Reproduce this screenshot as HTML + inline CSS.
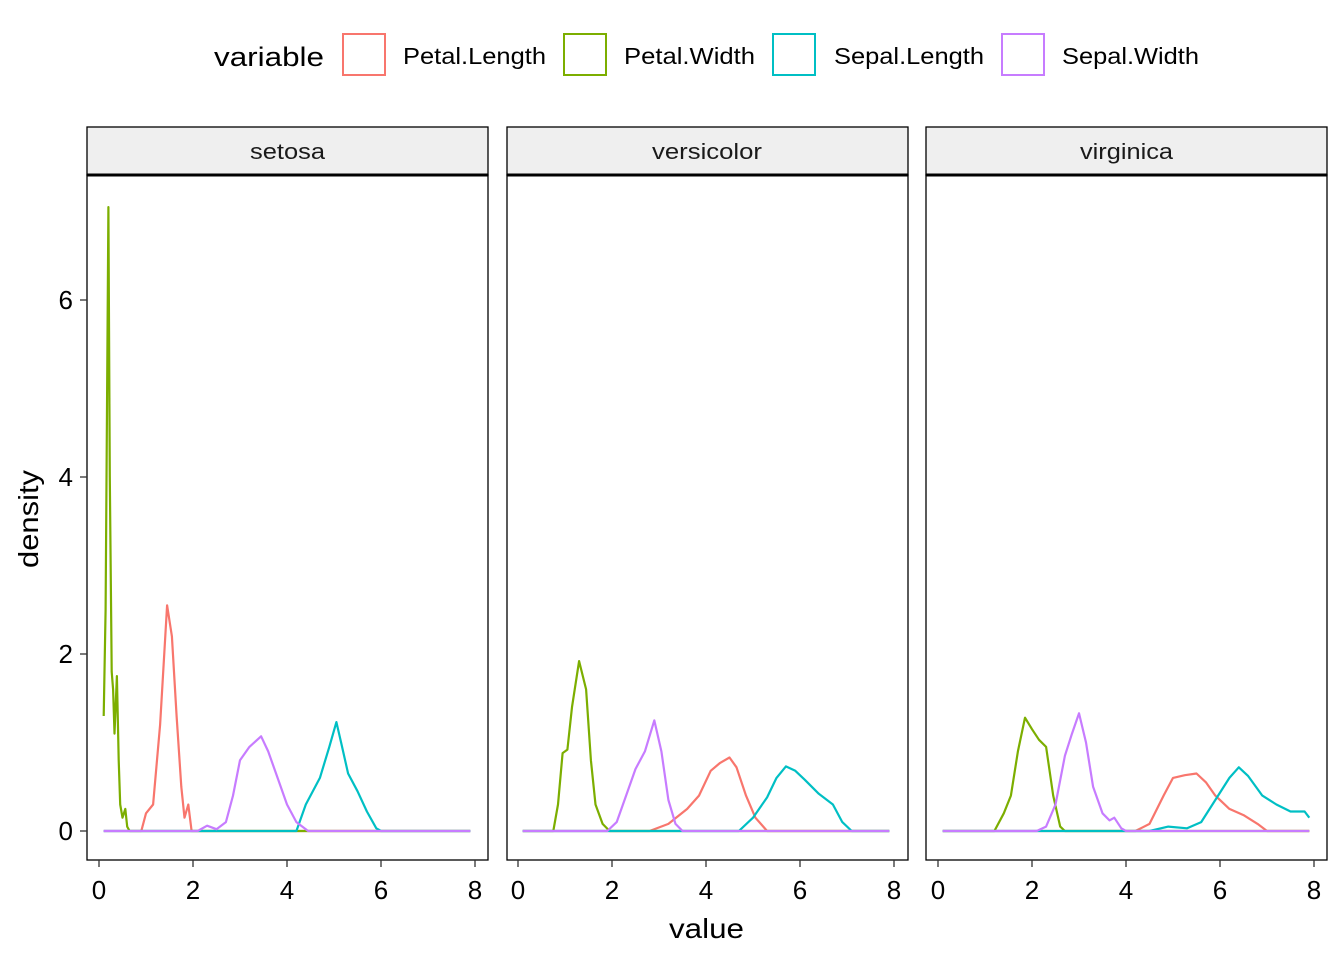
<!DOCTYPE html>
<html><head><meta charset="utf-8"><style>
body{margin:0;background:#fff}
svg text{font-family:"Liberation Sans",Arial,sans-serif}
</style></head><body>
<svg id="s" width="1344" height="960" xmlns="http://www.w3.org/2000/svg">
<rect width="1344" height="960" fill="#fff"/>
<text x="214" y="66" font-size="27" textLength="110" lengthAdjust="spacingAndGlyphs">variable</text>
<rect x="343" y="34" width="42" height="41" fill="none" stroke="#F8766D" stroke-width="2"/>
<text x="403" y="64" font-size="23" textLength="143" lengthAdjust="spacingAndGlyphs">Petal.Length</text>
<rect x="564" y="34" width="42" height="41" fill="none" stroke="#7CAE00" stroke-width="2"/>
<text x="624" y="64" font-size="23" textLength="131" lengthAdjust="spacingAndGlyphs">Petal.Width</text>
<rect x="773" y="34" width="42" height="41" fill="none" stroke="#00BFC4" stroke-width="2"/>
<text x="834" y="64" font-size="23" textLength="150" lengthAdjust="spacingAndGlyphs">Sepal.Length</text>
<rect x="1002" y="34" width="42" height="41" fill="none" stroke="#C77CFF" stroke-width="2"/>
<text x="1062" y="64" font-size="23" textLength="137" lengthAdjust="spacingAndGlyphs">Sepal.Width</text>
<text x="669" y="938" font-size="28" textLength="75" lengthAdjust="spacingAndGlyphs">value</text>
<text transform="translate(38,568) rotate(-90)" font-size="28" textLength="98" lengthAdjust="spacingAndGlyphs">density</text>
<g id="g"></g>
</svg>
<script>
var g=document.getElementById('g'),h='';
var panels=[
{x:87,name:'setosa',tx:250,tw:75,x0:99,d:{
PL:[[0.1,0],[0.9,0],[1.0,0.2],[1.15,0.3],[1.3,1.2],[1.45,2.55],[1.55,2.2],[1.65,1.3],[1.75,0.5],[1.82,0.15],[1.9,0.3],[1.97,0],[7.9,0]],
PW:[[0.1,1.3],[0.14,2.5],[0.2,7.05],[0.23,4],[0.27,1.8],[0.3,1.6],[0.33,1.1],[0.38,1.75],[0.42,0.8],[0.45,0.3],[0.5,0.15],[0.56,0.25],[0.6,0.05],[0.65,0],[7.9,0]],
SL:[[0.1,0],[4.2,0],[4.4,0.3],[4.7,0.6],[4.9,0.95],[5.05,1.23],[5.15,1.0],[5.3,0.65],[5.5,0.45],[5.7,0.22],[5.9,0.03],[6,0],[7.9,0]],
SW:[[0.1,0],[2.1,0],[2.3,0.06],[2.5,0.02],[2.7,0.1],[2.85,0.4],[3.0,0.8],[3.2,0.95],[3.45,1.07],[3.6,0.9],[3.8,0.6],[4.0,0.3],[4.2,0.1],[4.45,0],[7.9,0]]}},
{x:507,name:'versicolor',tx:652,tw:110,x0:518,d:{
PL:[[0.1,0],[2.8,0],[3.2,0.08],[3.6,0.25],[3.85,0.4],[4.1,0.68],[4.3,0.77],[4.5,0.83],[4.65,0.72],[4.85,0.4],[5.05,0.15],[5.3,0],[7.9,0]],
PW:[[0.1,0],[0.75,0],[0.85,0.3],[0.95,0.88],[1.05,0.92],[1.15,1.4],[1.3,1.92],[1.45,1.6],[1.55,0.8],[1.65,0.3],[1.8,0.08],[1.95,0],[7.9,0]],
SL:[[0.1,0],[4.7,0],[5.0,0.15],[5.3,0.38],[5.5,0.6],[5.7,0.73],[5.9,0.68],[6.1,0.58],[6.4,0.42],[6.7,0.3],[6.9,0.1],[7.1,0],[7.9,0]],
SW:[[0.1,0],[1.9,0],[2.1,0.1],[2.3,0.4],[2.5,0.7],[2.7,0.9],[2.9,1.25],[3.05,0.9],[3.2,0.35],[3.35,0.08],[3.5,0],[7.9,0]]}},
{x:926,name:'virginica',tx:1080,tw:93,x0:938,d:{
PL:[[0.1,0],[4.2,0],[4.5,0.08],[4.8,0.4],[5.0,0.6],[5.25,0.63],[5.5,0.65],[5.7,0.55],[5.9,0.4],[6.2,0.25],[6.5,0.18],[6.8,0.08],[7.0,0],[7.9,0]],
PW:[[0.1,0],[1.2,0],[1.4,0.2],[1.55,0.4],[1.7,0.9],[1.85,1.28],[2.0,1.15],[2.15,1.03],[2.3,0.95],[2.45,0.4],[2.6,0.05],[2.7,0],[7.9,0]],
SL:[[0.1,0],[4.5,0],[4.9,0.05],[5.3,0.03],[5.6,0.1],[5.9,0.35],[6.2,0.6],[6.4,0.72],[6.6,0.62],[6.9,0.4],[7.2,0.3],[7.5,0.22],[7.8,0.22],[7.9,0.15]],
SW:[[0.1,0],[2.1,0],[2.3,0.05],[2.5,0.3],[2.7,0.85],[2.85,1.1],[3.0,1.33],[3.15,1.0],[3.3,0.5],[3.5,0.2],[3.65,0.12],[3.75,0.15],[3.9,0.03],[4.0,0],[7.9,0]]}}];
var col={PL:'#F8766D',PW:'#7CAE00',SL:'#00BFC4',SW:'#C77CFF'};
panels.forEach(function(p,i){
 h+='<rect x="'+p.x+'" y="127" width="401" height="48" fill="#EFEFEF" stroke="#000" stroke-width="1.3"/>';
 h+='<text x="'+p.tx+'" y="159" font-size="22" textLength="'+p.tw+'" lengthAdjust="spacingAndGlyphs" fill="#1a1a1a">'+p.name+'</text>';
 h+='<line x1="'+p.x+'" y1="175" x2="'+(p.x+401)+'" y2="175" stroke="#000" stroke-width="3"/>';
 ['PL','PW','SL','SW'].forEach(function(k){
  var pts=p.d[k].map(function(a){return (p.x0+47*a[0]).toFixed(1)+','+(831-88.5*a[1]).toFixed(1)}).join(' ');
  h+='<polyline points="'+pts+'" fill="none" stroke="'+col[k]+'" stroke-width="2.2" stroke-linejoin="round"/>';
 });
 h+='<rect x="'+p.x+'" y="175" width="401" height="685" fill="none" stroke="#000" stroke-width="1.3"/>';
 for(var t=0;t<=8;t+=2){var xx=p.x0+47*t;
  h+='<line x1="'+xx+'" y1="860" x2="'+xx+'" y2="867" stroke="#333" stroke-width="1.3"/>';
  h+='<text x="'+xx+'" y="899" font-size="26" text-anchor="middle">'+t+'</text>';}
});
for(var t=0;t<=6;t+=2){var yy=831-88.5*t;
 h+='<line x1="80" y1="'+yy+'" x2="87" y2="'+yy+'" stroke="#333" stroke-width="1.3"/>';
 h+='<text x="73" y="'+(yy+9)+'" font-size="26" text-anchor="end">'+t+'</text>';}
g.innerHTML=h;
</script>
</body></html>
